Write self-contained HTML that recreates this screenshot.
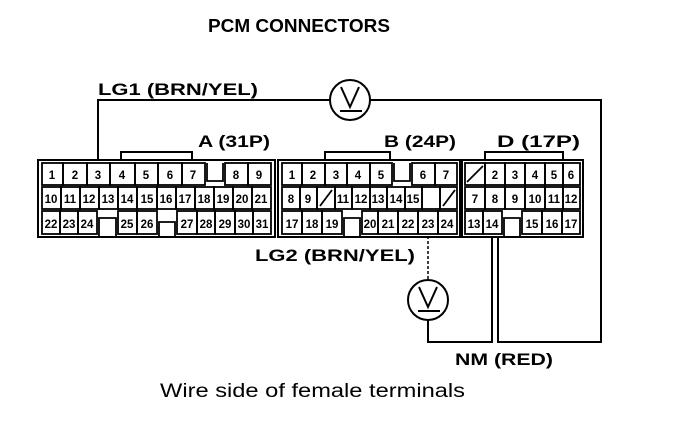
<!DOCTYPE html>
<html><head><style>
html,body{margin:0;padding:0;background:#fff;}
svg{display:block;}
text{font-family:"Liberation Sans",sans-serif;font-weight:bold;fill:#000;}
.n{font-size:11.5px;text-anchor:middle;}
</style></head><body>
<svg width="688" height="428" viewBox="0 0 688 428" xmlns="http://www.w3.org/2000/svg">
<g fill="none" stroke="#000" stroke-width="2">
<path d="M98 161 V100 H330 M370 100 H601 V342 H498 V236"/>
<path d="M492 236 V342 H428 V320"/>
<path d="M428 236 V280" stroke-dasharray="3,2" stroke-width="1.5"/>
<circle cx="350" cy="100" r="20"/>
<path d="M341 87 L350 107 L359 87 M340 111 H362"/>
<circle cx="428" cy="300" r="20"/>
<path d="M419 287 L428 307 L437 287 M418 311 H440"/>
<path d="M121 161 V152 H192 V161"/>
<path d="M325 161 V152 H390 V161"/>
<path d="M485 161 V152 H563 V161"/>
<rect x="38" y="160" width="237" height="77"/>
<rect x="278" y="160" width="182" height="77"/>
<rect x="462" y="160" width="121" height="77"/>
<g stroke-width="1.8">
<rect x="42" y="163" width="21" height="22"/><rect x="63" y="163" width="24" height="22"/><rect x="87" y="163" width="23" height="22"/><rect x="110" y="163" width="25" height="22"/><rect x="135" y="163" width="23" height="22"/><rect x="158" y="163" width="24" height="22"/><rect x="182" y="163" width="23" height="22"/><rect x="225" y="163" width="23" height="22"/><rect x="248" y="163" width="23" height="22"/>
<path d="M207 163 V181 H223 V163"/>
<rect x="42" y="187" width="19" height="22"/><rect x="61" y="187" width="19" height="22"/><rect x="80" y="187" width="19" height="22"/><rect x="99" y="187" width="19" height="22"/><rect x="118" y="187" width="19" height="22"/><rect x="137" y="187" width="20" height="22"/><rect x="157" y="187" width="19" height="22"/><rect x="176" y="187" width="19" height="22"/><rect x="195" y="187" width="19" height="22"/><rect x="214" y="187" width="19" height="22"/><rect x="233" y="187" width="19" height="22"/><rect x="252" y="187" width="19" height="22"/>
<rect x="42" y="211" width="18" height="23"/><rect x="60" y="211" width="18" height="23"/><rect x="78" y="211" width="19" height="23"/>
<path d="M99 237 V218 H116 V237"/>
<rect x="118" y="211" width="19" height="23"/><rect x="137" y="211" width="20" height="23"/>
<path d="M159 237 V222 H175 V237"/>
<rect x="177" y="211" width="20" height="23"/><rect x="197" y="211" width="18" height="23"/><rect x="215" y="211" width="20" height="23"/><rect x="235" y="211" width="18" height="23"/><rect x="253" y="211" width="18" height="23"/>
<rect x="282" y="163" width="20" height="22"/><rect x="302" y="163" width="23" height="22"/><rect x="325" y="163" width="22" height="22"/><rect x="347" y="163" width="23" height="22"/><rect x="370" y="163" width="22" height="22"/>
<path d="M394 163 V181 H410 V163"/>
<rect x="412" y="163" width="23" height="22"/><rect x="435" y="163" width="22" height="22"/>
<rect x="282" y="187" width="18" height="22"/><rect x="300" y="187" width="17" height="22"/><rect x="317" y="187" width="18" height="22"/><rect x="335" y="187" width="17" height="22"/><rect x="352" y="187" width="18" height="22"/><rect x="370" y="187" width="17" height="22"/><rect x="387" y="187" width="18" height="22"/><rect x="405" y="187" width="17" height="22"/><rect x="422" y="187" width="18" height="22"/><rect x="440" y="187" width="17" height="22"/>
<path d="M320 206 L332 190 M443 206 L455 190"/>
<rect x="282" y="211" width="20" height="23"/><rect x="302" y="211" width="20" height="23"/><rect x="322" y="211" width="20" height="23"/>
<path d="M344 237 V218 H360 V237"/>
<rect x="362" y="211" width="16" height="23"/><rect x="378" y="211" width="20" height="23"/><rect x="398" y="211" width="20" height="23"/><rect x="418" y="211" width="20" height="23"/><rect x="438" y="211" width="19" height="23"/>
<rect x="465" y="163" width="20" height="22"/><rect x="485" y="163" width="20" height="22"/><rect x="505" y="163" width="20" height="22"/><rect x="525" y="163" width="20" height="22"/><rect x="545" y="163" width="18" height="22"/><rect x="563" y="163" width="17" height="22"/>
<path d="M467 182 L483 166"/>
<rect x="465" y="187" width="20" height="22"/><rect x="485" y="187" width="20" height="22"/><rect x="505" y="187" width="20" height="22"/><rect x="525" y="187" width="20" height="22"/><rect x="545" y="187" width="18" height="22"/><rect x="563" y="187" width="17" height="22"/>
<rect x="465" y="211" width="18" height="23"/><rect x="483" y="211" width="19" height="23"/>
<path d="M504 237 V218 H520 V237"/>
<rect x="522" y="211" width="20" height="23"/><rect x="542" y="211" width="20" height="23"/><rect x="562" y="211" width="18" height="23"/>
</g>
</g>
<text x="208" y="32" style="font-size:18.5px" textLength="182" lengthAdjust="spacingAndGlyphs">PCM CONNECTORS</text>
<text x="98" y="95" style="font-size:17px" textLength="160" lengthAdjust="spacingAndGlyphs">LG1 (BRN/YEL)</text>
<text x="198" y="147" style="font-size:17px" textLength="72" lengthAdjust="spacingAndGlyphs">A (31P)</text>
<text x="384" y="147" style="font-size:17px" textLength="72" lengthAdjust="spacingAndGlyphs">B (24P)</text>
<text x="497" y="147" style="font-size:17px" textLength="83" lengthAdjust="spacingAndGlyphs">D (17P)</text>
<text x="255" y="261" style="font-size:17px" textLength="160" lengthAdjust="spacingAndGlyphs">LG2 (BRN/YEL)</text>
<text x="455" y="365" style="font-size:17px" textLength="98" lengthAdjust="spacingAndGlyphs">NM (RED)</text>
<text x="160" y="397" style="font-size:19px;font-weight:normal" textLength="305" lengthAdjust="spacingAndGlyphs">Wire side of female terminals</text>
<g class="n">
<text x="52" y="179">1</text><text x="75" y="179">2</text><text x="98" y="179">3</text><text x="122" y="179">4</text><text x="146" y="179">5</text><text x="170" y="179">6</text><text x="193" y="179">7</text><text x="236" y="179">8</text><text x="259" y="179">9</text>
<text x="51" y="203">10</text><text x="70" y="203">11</text><text x="89" y="203">12</text><text x="108" y="203">13</text><text x="127" y="203">14</text><text x="147" y="203">15</text><text x="166" y="203">16</text><text x="185" y="203">17</text><text x="204" y="203">18</text><text x="223" y="203">19</text><text x="242" y="203">20</text><text x="261" y="203">21</text>
<text x="51" y="228">22</text><text x="69" y="228">23</text><text x="87" y="228">24</text><text x="127" y="228">25</text><text x="147" y="228">26</text><text x="187" y="228">27</text><text x="206" y="228">28</text><text x="225" y="228">29</text><text x="244" y="228">30</text><text x="262" y="228">31</text>
<text x="292" y="179">1</text><text x="313" y="179">2</text><text x="336" y="179">3</text><text x="358" y="179">4</text><text x="381" y="179">5</text><text x="423" y="179">6</text><text x="446" y="179">7</text>
<text x="291" y="203">8</text><text x="308" y="203">9</text><text x="343" y="203">11</text><text x="361" y="203">12</text><text x="378" y="203">13</text><text x="396" y="203">14</text><text x="413" y="203">15</text>
<text x="292" y="228">17</text><text x="312" y="228">18</text><text x="332" y="228">19</text><text x="370" y="228">20</text><text x="388" y="228">21</text><text x="408" y="228">22</text><text x="428" y="228">23</text><text x="447" y="228">24</text>
<text x="495" y="179">2</text><text x="515" y="179">3</text><text x="535" y="179">4</text><text x="554" y="179">5</text><text x="571" y="179">6</text>
<text x="475" y="203">7</text><text x="495" y="203">8</text><text x="515" y="203">9</text><text x="535" y="203">10</text><text x="554" y="203">11</text><text x="571" y="203">12</text>
<text x="474" y="228">13</text><text x="492" y="228">14</text><text x="532" y="228">15</text><text x="552" y="228">16</text><text x="571" y="228">17</text>
</g>
</svg>
</body></html>
